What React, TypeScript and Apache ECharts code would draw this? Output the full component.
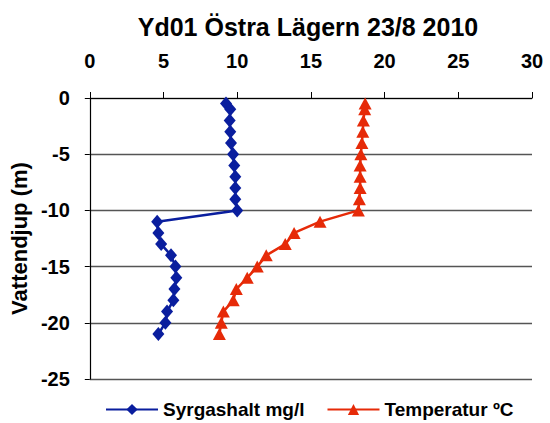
import React, { useEffect, useRef } from "react";
import * as echarts from "echarts";

const titleText = "Yd01 Östra Lägern 23/8 2010";
const depths = [-0.5, -1, -2, -3, -4, -5, -6, -7, -8, -9, -10, -11, -12, -13, -14, -15, -16, -17, -18, -19, -20, -21];
const oxygen = [9.24, 9.53, 9.49, 9.53, 9.58, 9.72, 9.8, 9.87, 9.87, 9.87, 10.0, 4.57, 4.65, 4.84, 5.51, 5.81, 5.87, 5.74, 5.67, 5.24, 5.13, 4.65];
const temperature = [18.68, 18.65, 18.56, 18.52, 18.46, 18.39, 18.34, 18.34, 18.34, 18.29, 18.22, 15.62, 13.86, 13.26, 11.97, 11.36, 10.68, 9.94, 9.73, 9.06, 8.92, 8.79];
const seriesNames = ["Syrgashalt mg/l", "Temperatur ºC"];
const yAxisName = "Vattendjup (m)";

const FONT = "'Liberation Sans', Arial, sans-serif";
const BLUE = "#0A1E9E";
const RED = "#E62A08";

export default function App() {
  const ref = useRef<HTMLDivElement>(null);
  useEffect(() => {
    document.body.style.margin = "0";
    if (!ref.current) return;
    const chart = echarts.init(ref.current, null, { renderer: "svg" });
    chart.setOption({
      animation: false,
      backgroundColor: "#fff",
      title: {
        text: titleText,
        left: 303,
        textAlign: "center",
        top: 9,
        textStyle: { fontFamily: FONT, fontWeight: "bold", fontSize: 25, color: "#000" },
      },
      legend: {
        left: 100,
        top: 395,
        itemWidth: 52,
        itemHeight: 14,
        itemGap: 22,
        data: seriesNames,
        textStyle: { fontFamily: FONT, fontWeight: "bold", fontSize: 19, color: "#000" },
      },
      grid: { left: 89, right: 18, top: 98, bottom: 44, containLabel: false },
      xAxis: {
        type: "value",
        position: "top",
        min: 0,
        max: 30,
        interval: 5,
        axisLine: { show: true, lineStyle: { color: "#000", width: 1.2 } },
        axisTick: { show: true, inside: false, length: 6, lineStyle: { color: "#000" } },
        axisLabel: { fontFamily: FONT, fontWeight: "bold", fontSize: 20, color: "#000", margin: 27 },
        splitLine: { show: false },
      },
      yAxis: {
        type: "value",
        min: -25,
        max: 0,
        interval: 5,
        name: yAxisName,
        nameLocation: "middle",
        nameGap: 59,
        nameRotate: 90,
        nameTextStyle: { fontFamily: FONT, fontWeight: "bold", fontSize: 22, color: "#000" },
        axisLine: { show: true, lineStyle: { color: "#000", width: 1.2 } },
        axisTick: { show: true, inside: false, length: 5, lineStyle: { color: "#000" } },
        axisLabel: { fontFamily: FONT, fontWeight: "bold", fontSize: 20, color: "#000", margin: 20 },
        splitLine: { show: true, lineStyle: { color: "#555", width: 1.3 } },
      },
      series: [
        {
          name: seriesNames[0],
          type: "line",
          data: depths.map((d, i) => [oxygen[i], d]),
          symbol: "diamond",
          symbolSize: [12, 14],
          lineStyle: { color: BLUE, width: 2.5 },
          itemStyle: { color: BLUE },
        },
        {
          name: seriesNames[1],
          type: "line",
          data: depths.map((d, i) => [temperature[i], d]),
          symbol: "triangle",
          symbolSize: [13, 12],
          lineStyle: { color: RED, width: 2.5 },
          itemStyle: { color: RED },
        },
      ],
    });
    return () => chart.dispose();
  }, []);
  return <div ref={ref} style={{ width: 550, height: 423 }} />;
}
